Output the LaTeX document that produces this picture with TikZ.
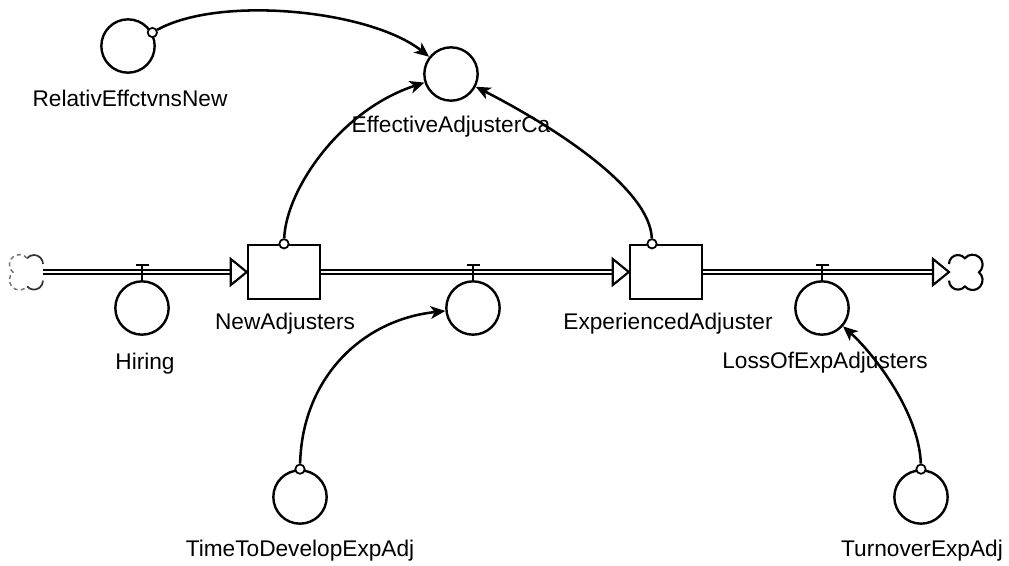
\documentclass[tikz,border=0pt]{standalone}
\usepackage{fontspec}
\setmainfont{Liberation Sans}
\usetikzlibrary{arrows.meta,calc}

\tikzset{
  aux/.style={circle, draw, line width=1.8pt, minimum size=40pt, inner sep=0pt},
  stock/.style={rectangle, draw, line width=1.8pt, minimum width=54pt, minimum height=40.5pt, inner sep=0pt},
  origin/.style={circle, draw, fill=white, line width=1.3pt, minimum size=7pt, inner sep=0pt},
  lbl/.style={anchor=base, inner sep=0pt, font=\fontsize{17}{20}\selectfont},
  conn/.style={line width=1.9pt, -{Stealth[length=11pt,width=9.5pt,inset=3pt]}},
  pipe/.style={draw, line width=1.4pt, double=white, double distance=1.1pt},
  valve/.style={line width=1.8pt},
  pipehead/.pic={
    \draw[fill=white, line width=1.6pt, line join=miter] (-16,-13) -- (0,0) -- (-16,13) -- cycle;
  },
  cloudpuff/.pic={
    \draw[line width=1.6pt] (0,-8) arc[start angle=180,end angle=320,radius=9]
      arc[start angle=220,end angle=410,radius=10]
      arc[start angle=310,end angle=500,radius=10]
      arc[start angle=40,end angle=180,radius=9];
  },
  fadedpuff/.pic={
    \draw[line width=1.3pt, black!80] (0,-8) arc[start angle=180,end angle=320,radius=9];
    \draw[line width=1.1pt, black!55, dash pattern=on 3pt off 2.5pt] (15.9,-13.8)
      arc[start angle=220,end angle=410,radius=10]
      arc[start angle=310,end angle=500,radius=10];
    \draw[line width=1.3pt, black!80] (15.9,14.4) arc[start angle=40,end angle=180,radius=9];
  },
}

\begin{document}
\begin{tikzpicture}[x=0.75pt, y=-0.75pt]
\useasboundingbox (0,0) rectangle (1009,565);
\fill[white] (0,0) rectangle (1009,565);

% stocks
\node[stock] (newA) at (284,272) {};
\node[stock] (expA) at (666,272) {};

% auxiliaries and flow valves
\node[aux] (rel) at (128,46) {};
\node[aux] (eac) at (451,74) {};
\node[aux] (hiring) at (142,308) {};
\node[aux] (develop) at (473,308) {};
\node[aux] (loss) at (822,308) {};
\node[aux] (ttd) at (300,497) {};
\node[aux] (turn) at (921,497) {};

% source and sink clouds
\coordinate (srcC) at (43,272);
\coordinate (sinkC) at (949,272);
\pic[xscale=-1] at (srcC) {fadedpuff};
\pic at (sinkC) {cloudpuff};

% pipes with their open arrowheads
\coordinate (in1) at ([xshift=-12pt]newA.west);
\coordinate (in2) at ([xshift=-12pt]expA.west);
\coordinate (in3) at ([xshift=-12pt]sinkC);
\draw[pipe] (srcC) -- (in1);
\draw[pipe] (newA.east) -- (in2);
\draw[pipe] (expA.east) -- (in3);
\pic at (newA.west) {pipehead};
\pic at (expA.west) {pipehead};
\pic at (sinkC) {pipehead};

% valve handles
\draw[valve] (hiring.north) -- ++(0,-15) ++(-6.5,0) -- ++(13,0);
\draw[valve] (develop.north) -- ++(0,-15) ++(-6.5,0) -- ++(13,0);
\draw[valve] (loss.north) -- ++(0,-15) ++(-6.5,0) -- ++(13,0);

% connector origins
\node[origin] (o1) at (rel.29) {};
\node[origin] (o2) at (newA.north) {};
\node[origin] (o3) at ([xshift=-10.5pt]expA.north) {};
\node[origin] (o4) at (ttd.north) {};
\node[origin] (o5) at (turn.north) {};

% connectors
\draw[conn] (o1) .. controls (220,-5) and (370,10) .. (eac);
\draw[conn] (o2) .. controls (286,190) and (340,110) .. (eac);
\draw[conn] (o3) .. controls (650,190) and (560,130) .. (eac);
\draw[conn] (o4) .. controls (302,380) and (360,320) .. (develop);
\draw[conn] (o5) .. controls (919,410) and (870,350) .. (loss);

% labels
\node[lbl] (relL) at (130,106) {RelativEffctvnsNew};
\node[lbl] (eacL) at (451,132) {EffectiveAdjusterCa};
\node[lbl] (newAL) at (285,329) {NewAdjusters};
\node[lbl] (expAL) at (668,329) {ExperiencedAdjuster};
\node[lbl] (hiringL) at (145,369) {Hiring};
\node[lbl] (lossL) at (825,368) {LossOfExpAdjusters};
\node[lbl] (ttdL) at (300,556) {TimeToDevelopExpAdj};
\node[lbl] (turnL) at (922,556) {TurnoverExpAdj};
\end{tikzpicture}
\end{document}
